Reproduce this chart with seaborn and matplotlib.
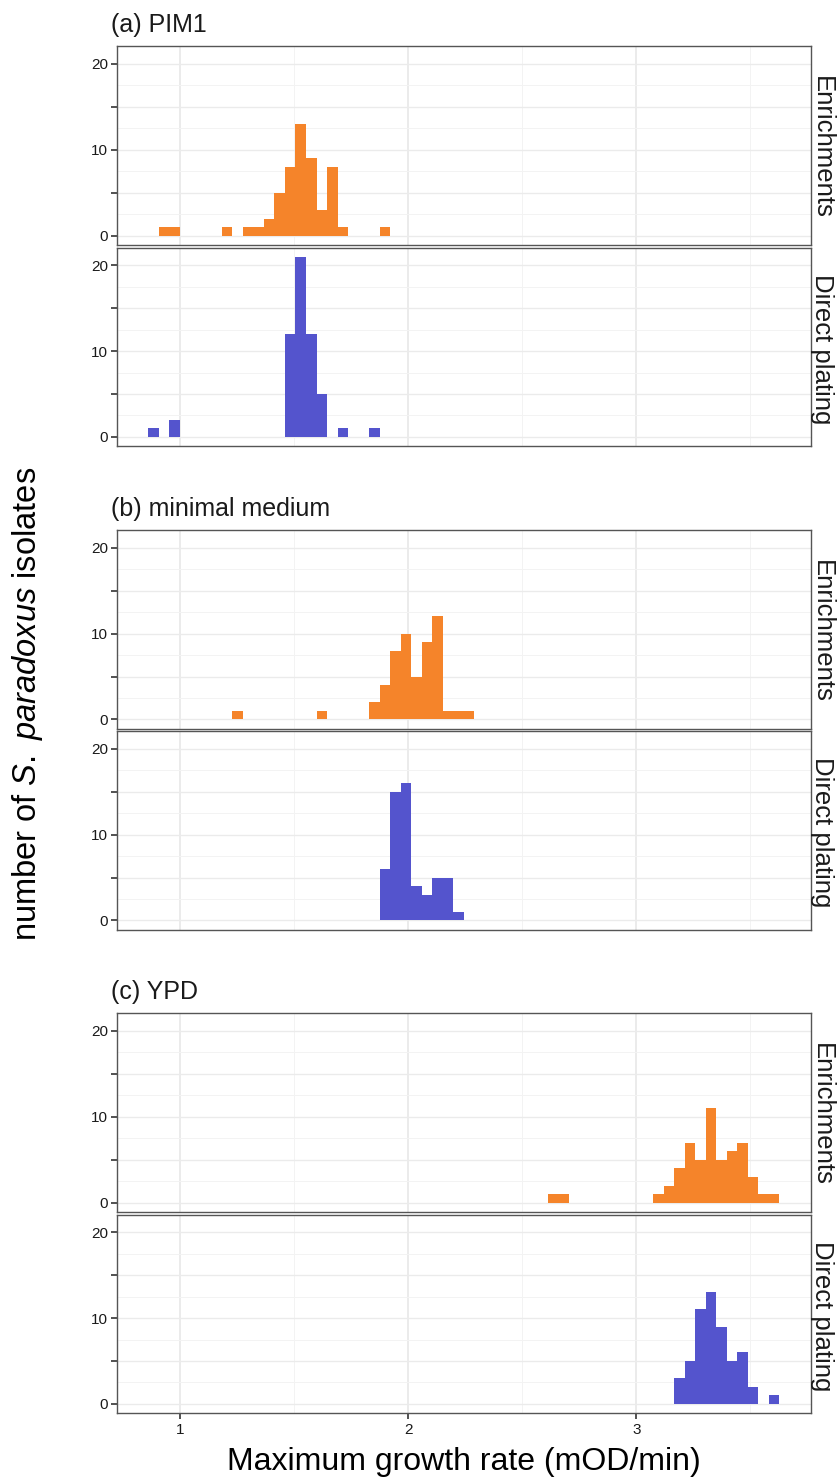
import numpy as np
import pandas as pd
import matplotlib
matplotlib.use("Agg")
import matplotlib.pyplot as plt
import seaborn as sns

# --- DATA (Histogramm-Zählungen) ---
# gemeinsames Bin-Raster für alle Panels
BIN_START = 0.8605
BIN_WIDTH = 0.0461
N_BINS = 60

PIM1_ENR_BINS = [1, 2, 7, 9, 10, 11, 12, 13, 14, 15, 16, 17, 18, 22]
PIM1_ENR_COUNTS = [1, 1, 1, 1, 1, 2, 5, 8, 13, 9, 3, 8, 1, 1]
PIM1_DIR_BINS = [0, 2, 13, 14, 15, 16, 18, 21]
PIM1_DIR_COUNTS = [1, 2, 12, 21, 12, 5, 1, 1]

MIN_ENR_BINS = [8, 16, 21, 22, 23, 24, 25, 26, 27, 28, 29, 30]
MIN_ENR_COUNTS = [1, 1, 2, 4, 8, 10, 5, 9, 12, 1, 1, 1]
MIN_DIR_BINS = [22, 23, 24, 25, 26, 27, 28, 29]
MIN_DIR_COUNTS = [6, 15, 16, 4, 3, 5, 5, 1]

YPD_ENR_BINS = [38, 39, 48, 49, 50, 51, 52, 53, 54, 55, 56, 57, 58, 59]
YPD_ENR_COUNTS = [1, 1, 1, 2, 4, 7, 5, 11, 5, 6, 7, 3, 1, 1]
YPD_DIR_BINS = [50, 51, 52, 53, 54, 55, 56, 57, 59]
YPD_DIR_COUNTS = [3, 5, 11, 13, 9, 5, 6, 2, 1]

PANEL_TITLES = ["(a) PIM1", "(b) minimal medium", "(c) YPD"]
ROW_LABELS = ["Enrichments", "Direct plating"]
X_TICKS = [1, 2, 3]
Y_TICKS = [0, 5, 10, 15, 20]
Y_TICK_LABELS = ["0", "", "10", "", "20"]

# --- DESIGN ---
sns.set_style("white")
plt.rcParams["font.family"] = ["Liberation Sans", "DejaVu Sans"]
plt.rcParams["mathtext.fontset"] = "custom"
plt.rcParams["mathtext.rm"] = "Liberation Sans"
plt.rcParams["mathtext.it"] = "Liberation Sans:italic"

COL_ENR = "#F5842A"
COL_DIR = "#5454CD"
GRID_MAJOR = "#EBEBEB"
GRID_MINOR = "#F3F3F3"

W, H = 838, 1479
fig = plt.figure(figsize=(W / 100, H / 100), dpi=100)

edges = BIN_START + BIN_WIDTH * np.arange(N_BINS + 1)
centers = edges[:-1] + BIN_WIDTH / 2

LEFT_PX, RIGHT_PX = 116.7, 810.7
# (oben, unten) in Pixeln für jedes Panel
PANEL_PX = [(46, 245), (247.5, 446),
            (530, 728.5), (731, 929.5),
            (1013, 1212), (1214.5, 1413)]

series = [
    (PIM1_ENR_BINS, PIM1_ENR_COUNTS, COL_ENR),
    (PIM1_DIR_BINS, PIM1_DIR_COUNTS, COL_DIR),
    (MIN_ENR_BINS, MIN_ENR_COUNTS, COL_ENR),
    (MIN_DIR_BINS, MIN_DIR_COUNTS, COL_DIR),
    (YPD_ENR_BINS, YPD_ENR_COUNTS, COL_ENR),
    (YPD_DIR_BINS, YPD_DIR_COUNTS, COL_DIR),
]


def style_axis(ax, show_x):
    ax.set_xlim(0.7222, 3.7643)
    ax.set_ylim(-1.05, 22.05)
    ax.set_xticks(X_TICKS)
    ax.set_xticks([1.5, 2.5, 3.5], minor=True)
    ax.set_yticks(Y_TICKS)
    ax.set_yticklabels(Y_TICK_LABELS)
    ax.set_yticks([2.5, 7.5, 12.5, 17.5], minor=True)
    ax.grid(True, which="major", axis="x", color=GRID_MAJOR, lw=1.4)
    ax.grid(True, which="major", axis="y", color=GRID_MAJOR, lw=1.0)
    ax.grid(True, which="minor", color=GRID_MINOR, lw=0.7)
    ax.set_axisbelow(True)
    for sp in ax.spines.values():
        sp.set_color("#555555")
        sp.set_linewidth(1.0)
    ax.tick_params(axis="y", which="major", length=4.2, width=1.2, color="#333333",
                   labelsize=11, labelcolor="#1a1a1a", pad=2, left=True)
    ax.tick_params(which="minor", length=0)
    if show_x:
        ax.tick_params(axis="x", which="major", length=4.2, width=1.2, color="#333333",
                       labelsize=11, labelcolor="#1a1a1a", pad=3, bottom=True)
    else:
        ax.tick_params(axis="x", which="major", length=0, labelbottom=False)
    ax.set_xlabel("")
    ax.set_ylabel("")


for i, ((top, bot), (bins, counts, color)) in enumerate(zip(PANEL_PX, series)):
    ax = fig.add_axes([LEFT_PX / W, 1 - bot / H, (RIGHT_PX - LEFT_PX) / W, (bot - top) / H])
    df = pd.DataFrame({"rate": centers[bins], "n": counts})
    sns.histplot(data=df, x="rate", weights="n", bins=list(edges), color=color,
                 alpha=1, linewidth=0, ax=ax)
    style_axis(ax, show_x=(i == len(PANEL_PX) - 1))
    ax.text(0.9995, 0.49, ROW_LABELS[i % 2], transform=ax.transAxes, rotation=270,
            ha="left", va="center", fontsize=18.5, color="#1a1a1a")
    if i % 2 == 0:
        fig.text(111 / W, 1 - (top - 14) / H, PANEL_TITLES[i // 2], ha="left",
                 va="baseline", fontsize=18, color="#1a1a1a")

fig.text((LEFT_PX + RIGHT_PX) / 2 / W, 1 - 1470 / H, "Maximum growth rate (mOD/min)",
         ha="center", va="baseline", fontsize=23, color="black")
fig.text(28 / W, 1 - 704 / H, r"number of $\it{S.\ paradoxus}$ isolates",
         ha="center", va="center", rotation=90, fontsize=23.5, color="black")

fig.savefig("out.png", dpi=100)
plt.close(fig)
